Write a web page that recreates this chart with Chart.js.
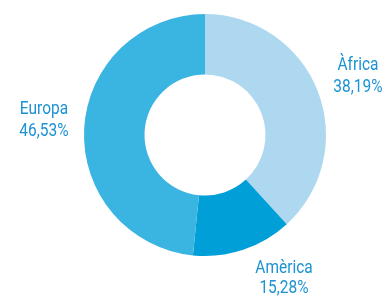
<!DOCTYPE html>
<html>
<head>
<meta charset="utf-8">
<script src="https://cdn.jsdelivr.net/npm/chart.js@4/dist/chart.umd.min.js"></script>
<style>
  html, body { margin: 0; padding: 0; background: #fff; }
  #wrap { width: 391px; height: 297px; }
</style>
</head>
<body>
<div id="wrap"><canvas id="chart-area" width="391" height="297"></canvas></div>
<script>
var continents = ['Àfrica', 'Amèrica', 'Europa'];
// slice sizes as drawn in the picture (the printed labels are kept separately)
var sliceShares = [38.19, 13.4, 48.41];
var percentLabels = ['38,19%', '15,28%', '46,53%'];
var sliceColors = ['#aed8ef', '#009fd7', '#3ab4e0'];

// where each label sits, in multiples of the outer radius from the centre
var labelOffsets = [[1.264, -0.537], [0.653, 1.14], [-1.331, -0.172]];

var outsideLabels = {
    id: 'outsideLabels',
    afterDraw: function(chart){
        var ctx = chart.ctx;
        var arcs = chart.getDatasetMeta(0).data;
        ctx.save();
        ctx.fillStyle = '#1b92d2';
        ctx.font = '18px "Roboto", sans-serif';
        ctx.textAlign = 'center';
        ctx.textBaseline = 'alphabetic';
        arcs.forEach(function(arc, i){
            var r = arc.outerRadius;
            var x = arc.x + labelOffsets[i][0] * r;
            var y = arc.y + labelOffsets[i][1] * r;
            // squeeze the text a bit, the original uses a condensed face
            ctx.save();
            ctx.translate(x, y);
            ctx.scale(0.86, 1);
            ctx.fillText(continents[i], 0, 0);
            ctx.fillText(percentLabels[i], 0, i === 1 ? 20 : 22);
            ctx.restore();
        });
        ctx.restore();
    }
};

var ctx = document.getElementById('chart-area').getContext('2d');
var config = {
    type: 'doughnut',
    data: {
        labels: continents,
        datasets: [{
            data: sliceShares,
            backgroundColor: sliceColors,
            borderWidth: 0
        }]
    },
    options: {
        responsive: false,
        animation: false,
        cutout: '50%',
        layout: {
            padding: { left: 84, right: 65, top: 14, bottom: 41 }
        },
        plugins: {
            legend: { display: false },
            tooltip: { enabled: false }
        }
    },
    plugins: [outsideLabels]
};
window.myDoughnut = new Chart(ctx, config);
</script>
</body>
</html>
